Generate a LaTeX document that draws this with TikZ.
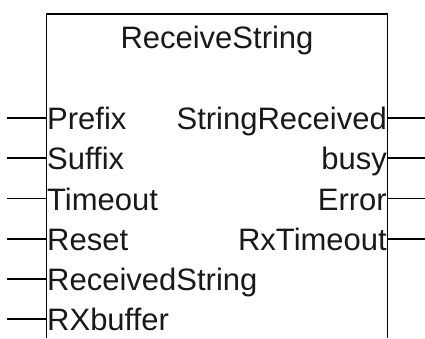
\documentclass[tikz,border=0pt]{standalone}
\usepackage{fontspec}
\setmainfont{Liberation Sans}
\tikzstyle{block}=[line width=1.3pt]
\tikzstyle{pin}=[line width=1.3pt]
\tikzstyle{labelsty}=[inner sep=0.5pt, text=black!90, font=\fontsize{31}{36}\selectfont]
\tikzstyle{inlabel}=[labelsty, anchor=base west]
\tikzstyle{outlabel}=[labelsty, anchor=base east]
\tikzstyle{titlesty}=[labelsty, anchor=base]

\begin{document}
\begin{tikzpicture}[x=1pt,y=1pt]
	\useasboundingbox (0,0) rectangle (425,338);

	% block outline, open at the bottom
	\coordinate (bl) at (46.5,0);
	\coordinate (tl) at (46.5,324);
	\coordinate (tr) at (387.5,324);
	\coordinate (br) at (387.5,0);
	\draw[block] (bl) -- (tl) -- (tr) -- (br);

	\node[titlesty] (title) at (217,289) {ReceiveString};

	% inputs
	\coordinate (in1) at (46.5,220);   \coordinate (pin1) at (7,220);
	\coordinate (in2) at (46.5,180);   \coordinate (pin2) at (7,180);
	\coordinate (in3) at (46.5,139.5); \coordinate (pin3) at (7,139.5);
	\coordinate (in4) at (46.5,99);    \coordinate (pin4) at (7,99);
	\coordinate (in5) at (46.5,59);    \coordinate (pin5) at (7,59);
	\coordinate (in6) at (46.5,19);    \coordinate (pin6) at (7,19);

	\node[inlabel] (prefix) at (46.5,208.5) {Prefix};
	\node[inlabel] (suffix) at (46.5,168.5) {Suffix};
	\node[inlabel] (timeout) at (46.5,128) {Timeout};
	\node[inlabel] (reset) at (46.5,87.5) {Reset};
	\node[inlabel] (recstr) at (46.5,47.5) {ReceivedString};
	\node[inlabel] (rxbuf) at (46.5,7.5) {RXbuffer};

	\draw[pin] (pin1) -- (in1);
	\draw[pin] (pin2) -- (in2);
	\draw[pin] (pin3) -- (in3);
	\draw[pin] (pin4) -- (in4);
	\draw[pin] (pin5) -- (in5);
	\draw[pin] (pin6) -- (in6);

	% outputs
	\coordinate (out1) at (387.5,220);   \coordinate (pout1) at (425,220);
	\coordinate (out2) at (387.5,180);   \coordinate (pout2) at (425,180);
	\coordinate (out3) at (387.5,139.5); \coordinate (pout3) at (425,139.5);
	\coordinate (out4) at (387.5,99);    \coordinate (pout4) at (425,99);

	\node[outlabel] (strrec) at (387.5,208.5) {StringReceived};
	\node[outlabel] (busy) at (387.5,168.5) {busy};
	\node[outlabel] (error) at (387.5,128) {Error};
	\node[outlabel] (rxtime) at (387.5,87.5) {RxTimeout};

	\draw[pin] (out1) -- (pout1);
	\draw[pin] (out2) -- (pout2);
	\draw[pin] (out3) -- (pout3);
	\draw[pin] (out4) -- (pout4);

\end{tikzpicture}
\end{document}
